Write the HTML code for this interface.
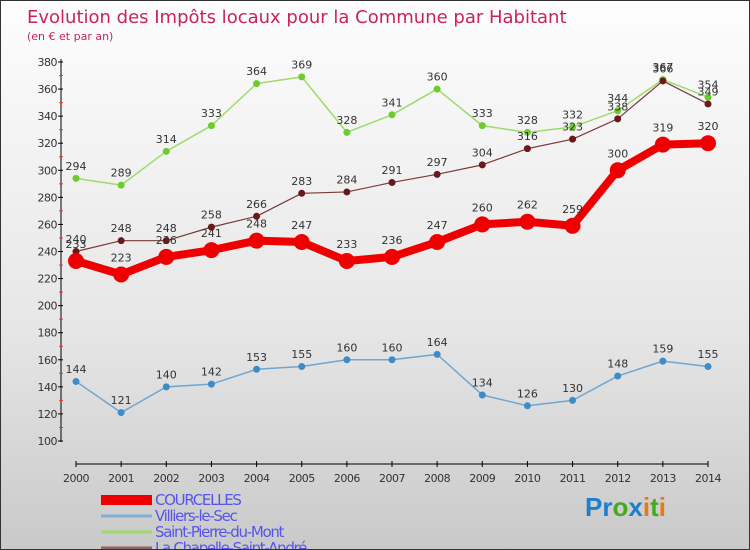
<!DOCTYPE html>
<html><head><meta charset="utf-8"><style>
body{margin:0}
#c{width:750px;height:550px;position:relative;box-sizing:border-box;border:1px solid #333;background:linear-gradient(#fdfdfd,#e6e6e6 60%,#c9c9c9);font-family:"DejaVu Sans","Liberation Sans",sans-serif;overflow:hidden}
</style></head><body>
<div id="c">
<svg id="s" width="750" height="550"></svg>
</div>
<script>
const years=[2000,2001,2002,2003,2004,2005,2006,2007,2008,2009,2010,2011,2012,2013,2014];
const courcelles=[233,223,236,241,248,247,233,236,247,260,262,259,300,319,320];
const villiers=[144,121,140,142,153,155,160,160,164,134,126,130,148,159,155];
const spm=[294,289,314,333,364,369,328,341,360,333,328,332,344,367,354];
const chapelle=[240,248,248,258,266,283,284,291,297,304,316,323,338,366,349];
const yTicks=[100,120,140,160,180,200,220,240,260,280,300,320,340,360,380];
const names=["COURCELLES","Villiers-le-Sec","Saint-Pierre-du-Mont","La Chapelle-Saint-André"];
const NS="http://www.w3.org/2000/svg";
const s=document.getElementById('s');
const X=i=>75+i*(707-75)/14;
const Y=v=>440-(v-100)*(440-61)/280;
function el(t,a,p){const e=document.createElementNS(NS,t);for(const k in a)e.setAttribute(k,a[k]);(p||s).appendChild(e);return e;}
function tx(x,y,str,a){const e=el('text',Object.assign({x:x,y:y},a));e.textContent=str;return e;}
let t=tx(26,22,"Evolution des Impôts locaux pour la Commune par Habitant",{fill:"#c8245a","font-size":"18"});

t=tx(26,39,"(en € et par an)",{fill:"#c8245a","font-size":"11"});

// y axis
let ya=el('g',{});
el('line',{x1:60,y1:58,x2:60,y2:441,stroke:"#000"},ya);
yTicks.forEach((v,i)=>{el('line',{x1:57,x2:62,y1:Y(v),y2:Y(v),stroke:"#000"},ya);
 if(i<yTicks.length-1)el('line',{x1:58,x2:62,y1:Y(v+10),y2:Y(v+10),stroke:"#e33"},ya);
 tx(56,Y(v)+4,v,{"text-anchor":"end","font-size":"11",fill:"#333","letter-spacing":"-0.5"},ya);});
let xa=el('g',{});
el('line',{x1:75,x2:707,y1:463,y2:463,stroke:"#000"},xa);
years.forEach((y,i)=>{el('line',{x1:X(i),x2:X(i),y1:460,y2:466,stroke:"#000"},xa);
 tx(X(i),481,y,{"text-anchor":"middle","font-size":"11",fill:"#333","letter-spacing":"-0.5"},xa);});
function series(data,name,col,w,r,dotCol){
 const g=el('g',{});
 el('polyline',{points:data.map((v,i)=>X(i)+','+Y(v)).join(' '),fill:"none",stroke:col,"stroke-width":w,"stroke-linejoin":"round"},g);
 data.forEach((v,i)=>{const c=el('circle',{cx:X(i),cy:Y(v),r:r,fill:dotCol},g);
  
  tx(X(i),Y(v)-(r+5),v,{"text-anchor":"middle","font-size":"11",fill:"#333"},g);});
}
series(villiers,'villiers',"#6fa6cf",1.5,3.5,"#3d8cc8");
series(spm,'saint-pierre',"#9ddc6a",1.5,3.5,"#6ccc2c");
series(chapelle,'chapelle',"#7a3a3a",1.2,3.5,"#6a1818");
series(courcelles,'courcelles',"#ee0000",8,8,"#ee0000");
// legend
const lc=["#ee0000","#7fb0d6","#9ddc6a","#946464"],lw=[10,3,3,3];
names.forEach((n,i)=>{const g=el('g',{});
 const yy=493+i*16;
 el('rect',{x:100,y:yy+6-lw[i]/2,width:51,height:lw[i],fill:lc[i]},g);
 tx(154,yy+11,n,{"font-size":"15",fill:"#5555ee","letter-spacing":"-1.3"},g);});
const lg=el('text',{x:584,y:515,"font-size":"26","font-family":"Liberation Sans,sans-serif","font-weight":"bold"});

[["Pr","#1a7fd0"],["o","#44aa22"],["x","#1a7fd0"],["i","#ee7711"],["t","#44aa22"],["i","#ee7711"]].forEach(p=>{const ts=el('tspan',{fill:p[1]},lg);ts.textContent=p[0];});
</script>
</body></html>
